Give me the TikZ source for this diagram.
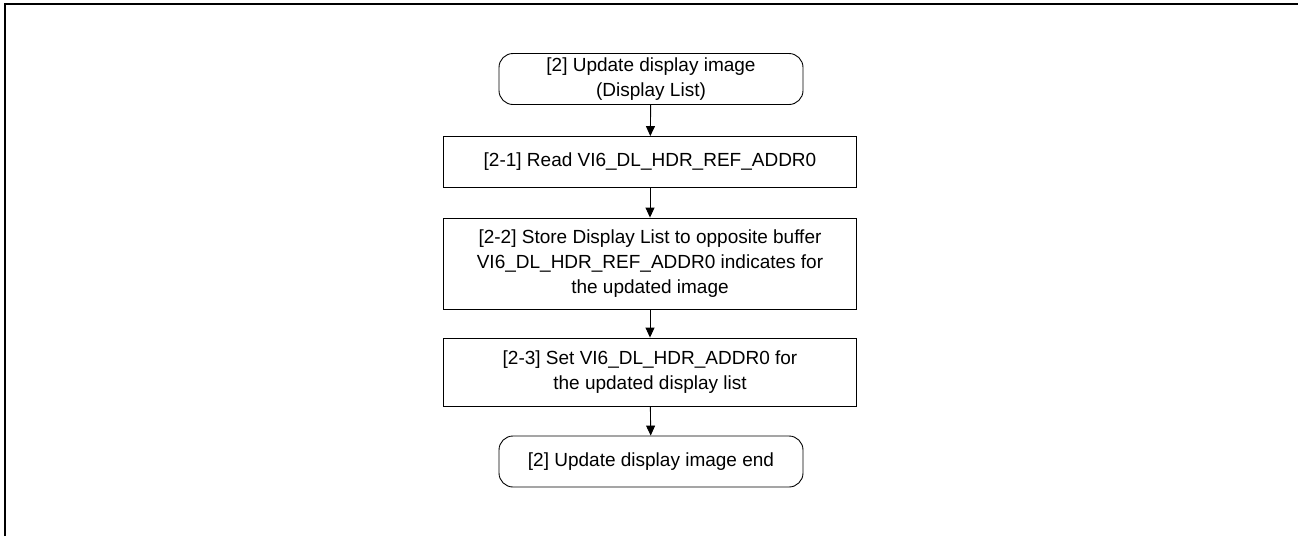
\documentclass[tikz,border=0pt]{standalone}
\usepackage{fontspec}
\setmainfont{Liberation Sans}
\usetikzlibrary{arrows.meta, positioning}

\begin{document}
\begin{tikzpicture}[x=1pt, y=-1pt, font=\fontsize{19}{25}\selectfont,
  terminal/.style={draw, line width=0.9pt, rounded corners=14pt, align=center,
    minimum width=304pt, minimum height=51pt, inner sep=0pt},
  process/.style={draw, line width=0.9pt, align=center,
    minimum width=413pt, inner sep=0pt},
  flow/.style={line width=0.9pt, -{Triangle[width=9pt, length=10pt]}}]
  \useasboundingbox (0,0) rectangle (1298,536);
  % outer frame (only the left and top edges are visible)
  \draw[line width=2pt] (5,536) -- (5,4) -- (1298,4);

  \node[terminal] (start) at (651,79) {[2] Update display image\\(Display List)};
  \node[process, minimum height=51pt] (read) at (650,162) {[2-1] Read VI6\_DL\_HDR\_REF\_ADDR0};
  \node[process, minimum height=91pt] (store) at (650,263.5)
    {[2-2] Store Display List to opposite buffer\\VI6\_DL\_HDR\_REF\_ADDR0 indicates for\\the updated image};
  \node[process, minimum height=68pt] (set) at (650,372)
    {[2-3] Set VI6\_DL\_HDR\_ADDR0 for\\the updated display list};
  \node[terminal] (end) at (651,461.5) {[2] Update display image end};

  \draw[flow] (start) -- (read);
  \draw[flow] (read) -- (store);
  \draw[flow] (store) -- (set);
  \draw[flow] (set) -- (end);
\end{tikzpicture}
\end{document}
